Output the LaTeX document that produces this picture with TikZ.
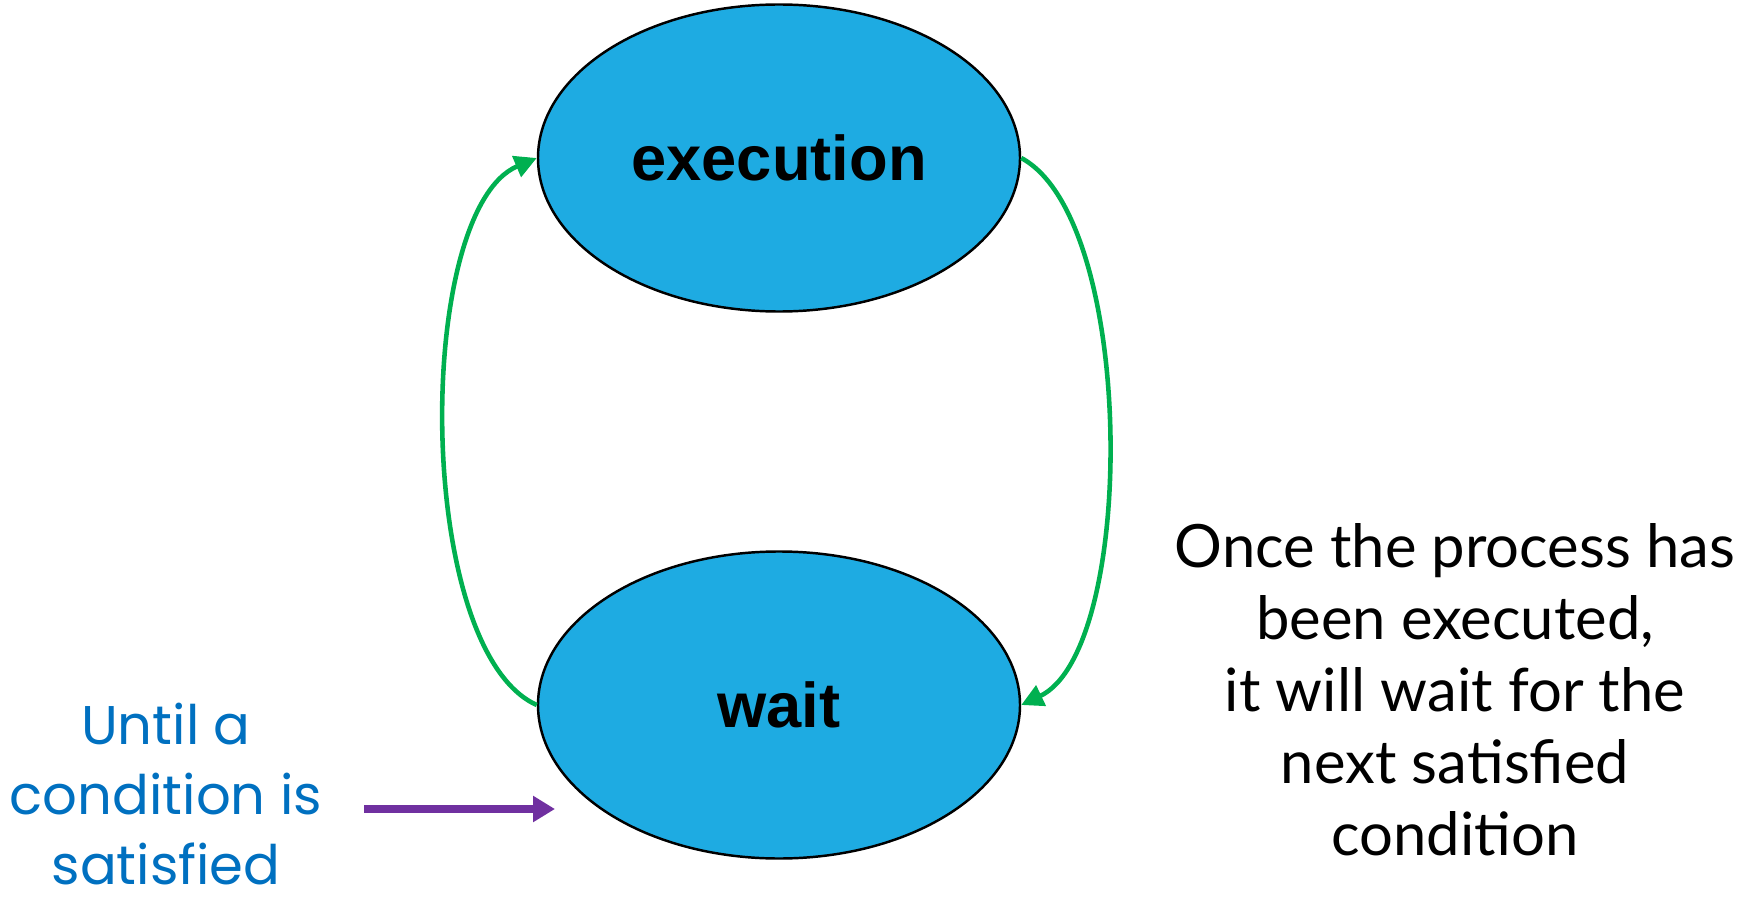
\documentclass[tikz,border=0pt]{standalone}
\usepackage{fontspec}
\setmainfont{Liberation Sans}
\newfontfamily\notefont{Lato}
\newfontfamily\handfont{Poppins}
\usetikzlibrary{arrows.meta,shapes.geometric}
\definecolor{stateblue}{HTML}{1EABE2}
\definecolor{loopgreen}{HTML}{00B050}
\definecolor{notepurple}{HTML}{7030A0}
\definecolor{handblue}{HTML}{0070C0}
\begin{document}
\begin{tikzpicture}[
    state/.style={ellipse, draw=black, line width=0.7pt, fill=stateblue,
      minimum width=4.82cm, minimum height=3.07cm, inner sep=0pt,
      font=\fontsize{18}{22}\selectfont\bfseries},
    loop/.style={draw=loopgreen, line width=1.3pt, -{Triangle[length=0.22cm,width=0.22cm]}}
  ]
  \useasboundingbox (0,0) rectangle (17.58,9);
  %stati
  \node[state] (exec) at (7.79,7.42) {execution};
  \node[state] (wait) at (7.79,1.95) {wait};
  %cicli
  \draw[loop] (wait.west) .. controls (4.14,2.5) and (4.14,6.9) .. (exec.west);
  \draw[loop] (exec.east) .. controls (11.37,6.8) and (11.37,2.5) .. (wait.east);
  %nota a destra
  \node[align=center, font=\notefont\fontsize{17}{20.5}\selectfont] (note) at (14.55,2.1)
    {Once the process has\\been executed,\\it will wait for the\\next satisfied\\condition};
  %condizione
  \node[align=center, inner sep=0pt, text=handblue, font=\handfont\fontsize{15.5}{19.8}\selectfont] (cond) at (1.66,1.06)
    {Until a\\condition is\\satisfied};
  \coordinate (from) at (3.64,0.91);
  \coordinate (tip) at (5.55,0.91);
  \draw[notepurple, line width=2.2pt, -{Triangle[length=0.22cm,width=0.25cm]}] (from) -- (tip);
\end{tikzpicture}
\end{document}
